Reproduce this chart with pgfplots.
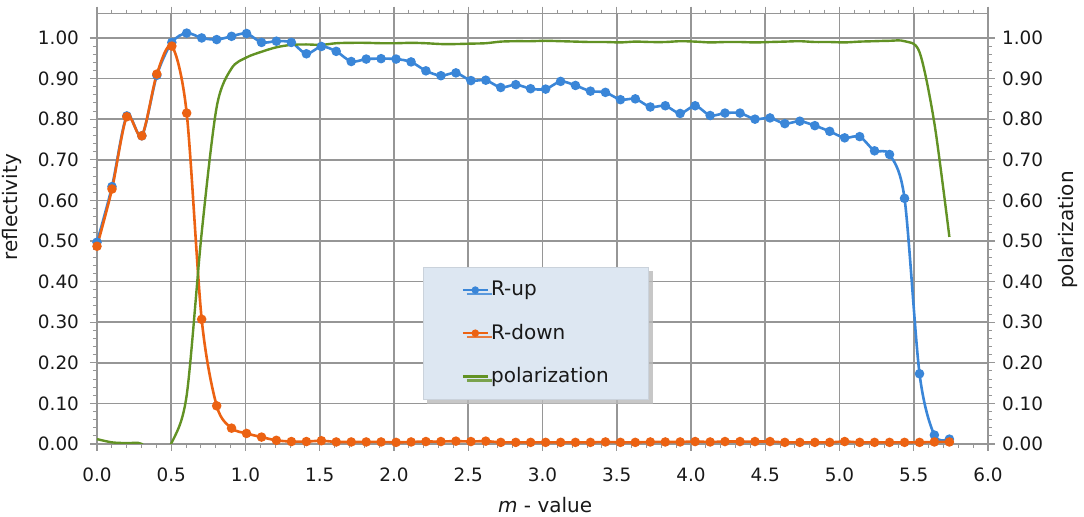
\documentclass[border=0pt]{standalone}
\usepackage{pgfplots}
\pgfplotsset{compat=1.18}
\usepackage{pgfplotstable}
\usepackage{fontspec}
\setmainfont{DejaVu Sans}
\usetikzlibrary{shadows}
\definecolor{cblue}{RGB}{58,134,216}
\definecolor{corange}{RGB}{236,98,18}
\definecolor{cgreen}{RGB}{98,146,36}
\definecolor{cgrid}{RGB}{150,150,150}
\definecolor{clegend}{RGB}{221,231,242}
\definecolor{ctext}{RGB}{25,25,25}

\pgfplotstableread{
x blue orange green
0.000 0.497 0.487 0.012
0.101 0.634 0.628 0.004
0.201 0.808 0.806 0.002
0.302 0.759 0.759 0.000
0.403 0.908 0.911 -0.040
0.504 0.989 0.980 0.004
0.604 1.012 0.815 0.120
0.705 1.000 0.307 0.520
0.806 0.996 0.094 0.830
0.906 1.004 0.039 0.925
1.007 1.011 0.026 0.952
1.108 0.989 0.017 0.966
1.208 0.992 0.009 0.977
1.309 0.989 0.006 0.983
1.410 0.961 0.006 0.984
1.511 0.979 0.008 0.983
1.611 0.967 0.005 0.987
1.712 0.942 0.005 0.988
1.813 0.948 0.005 0.988
1.913 0.949 0.005 0.987
2.014 0.948 0.004 0.987
2.115 0.941 0.005 0.988
2.215 0.919 0.006 0.987
2.316 0.907 0.006 0.985
2.417 0.914 0.007 0.985
2.518 0.895 0.006 0.986
2.618 0.896 0.007 0.987
2.719 0.878 0.004 0.991
2.820 0.885 0.004 0.992
2.920 0.875 0.004 0.992
3.021 0.874 0.004 0.993
3.122 0.893 0.004 0.992
3.222 0.883 0.004 0.991
3.323 0.869 0.004 0.990
3.424 0.866 0.005 0.990
3.525 0.848 0.004 0.989
3.625 0.850 0.004 0.991
3.726 0.830 0.005 0.990
3.827 0.833 0.005 0.990
3.927 0.814 0.005 0.992
4.028 0.833 0.006 0.991
4.129 0.809 0.005 0.989
4.229 0.815 0.006 0.990
4.330 0.815 0.006 0.990
4.431 0.800 0.006 0.989
4.532 0.803 0.006 0.990
4.632 0.789 0.004 0.991
4.733 0.795 0.004 0.992
4.834 0.784 0.004 0.990
4.934 0.770 0.004 0.990
5.035 0.754 0.006 0.989
5.136 0.757 0.004 0.991
5.236 0.722 0.004 0.992
5.337 0.713 0.004 0.993
5.438 0.605 0.004 0.992
5.539 0.173 0.004 0.965
5.639 0.022 0.005 0.790
5.740 0.012 0.005 0.510
}\data

\pgfplotsset{
  common/.style={
    scale only axis, width=445.5pt, height=215.2pt,
    xmin=0, xmax=6, ymin=0, ymax=1.06,
    ytick={0,0.1,0.2,0.3,0.4,0.5,0.6,0.7,0.8,0.9,1.0},
    minor y tick num=4,
    tick align=outside,
    major tick length=3.5pt, minor tick length=2pt,
    every tick/.style={cgrid, line width=0.6pt},
    every minor tick/.style={cgrid, line width=0.5pt},
    tick label style={font=\fontsize{9.2}{11}\selectfont, text=ctext},
    y tick label style={/pgf/number format/fixed, /pgf/number format/fixed zerofill, /pgf/number format/precision=2, /pgf/number format/assume math mode=true},
    label style={font=\fontsize{10}{12}\selectfont, text=ctext},
  }
}

\begin{document}
\begin{tikzpicture}
\useasboundingbox (-48.5pt,-36.5pt) rectangle (493.5pt,222pt);
\begin{axis}[common,
  axis line style={cgrid, line width=0.7pt},
  xtick={0,0.5,1,1.5,2,2.5,3,3.5,4,4.5,5,5.5,6},
  minor x tick num=4,
  x tick label style={/pgf/number format/fixed, /pgf/number format/fixed zerofill, /pgf/number format/precision=1, /pgf/number format/assume math mode=true, yshift=-5pt},
  y tick label style={xshift=-2pt},
  xtick pos=both, ytick pos=left,
  xticklabel pos=lower,
  grid=major,
  major grid style={cgrid, line width=0.8pt},
  xlabel={\textit{m} - value},
  ylabel={reflectivity},
  xlabel style={at={(axis description cs:0.503,-0.142)}, anchor=center},
  ylabel style={at={(axis description cs:-0.0954,0.55)}, anchor=center, rotate=0},
  legend style={at={(axis description cs:0.366,0.102)}, anchor=south west,
    fill=clegend, draw=clegend!80!gray,
    drop shadow={shadow xshift=2pt, shadow yshift=-2pt, fill=gray!55, opacity=0.8},
    font=\fontsize{10}{12}\selectfont, text=ctext,
    row sep=8.6pt, inner xsep=19pt, inner ysep=5pt,
    nodes={inner xsep=1pt}},
  legend cell align=left,
  legend image code/.code={\draw[mark repeat=2,mark phase=2, mark size=1.2pt] plot coordinates {(0pt,0pt)(6.25pt,0pt)(12.5pt,0pt)};},
]
\addplot[cblue, line width=1.3pt, smooth, mark=*, mark size=1.7pt, mark options={fill=cblue, draw=cblue}] table[x=x,y=blue] {\data};
\addlegendentry{R-up}
\addplot[corange, line width=1.3pt, smooth, mark=*, mark size=1.7pt, mark options={fill=corange, draw=corange}] table[x=x,y=orange] {\data};
\addlegendentry{R-down}
\addplot[cgreen, line width=1.2pt, smooth] table[x=x,y=green] {\data};
\addlegendentry{polarization}
\end{axis}
\begin{axis}[common,
  axis x line=none, axis y line*=right,
  axis line style={cgrid, line width=0.7pt},
  ylabel={polarization},
  ylabel style={at={(axis description cs:1.0898,0.497)}, anchor=center, rotate=0},
]
\addplot[draw=none] coordinates {(0,0)};
\end{axis}
\end{tikzpicture}
\end{document}
